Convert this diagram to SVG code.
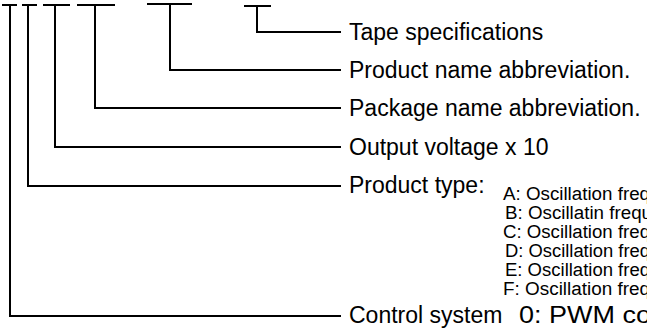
<svg xmlns="http://www.w3.org/2000/svg" width="647" height="328" viewBox="0 0 647 328">
<style>
.c{fill:none;stroke:#000;stroke-width:2;stroke-linecap:butt;stroke-linejoin:miter}
.t{font-family:"Liberation Sans",Arial,sans-serif;font-size:23px;fill:#000}
.s{font-family:"Liberation Sans",Arial,sans-serif;font-size:18px;fill:#000}
</style>
<rect width="647" height="328" fill="#fff"/>
<g id="connectors">
<path class="c" d="M2,5H17M10,5V316H341"/>
<path class="c" d="M22,5H37M28,5V186H341"/>
<path class="c" d="M43,5H70M55,5V147H341"/>
<path class="c" d="M77,5H115M95,5V108H341"/>
<path class="c" d="M147,4H192M170,4V70H341"/>
<path class="c" d="M244,6H271M257,6V32H341"/>
</g>
<g id="tape"><text class="t" x="349" y="40">Tape specifications</text></g>
<g id="product-name"><text class="t" x="349" y="78">Product name abbreviation.</text></g>
<g id="package-name"><text class="t" x="349" y="116">Package name abbreviation.</text></g>
<g id="output-voltage"><text class="t" x="349" y="155">Output voltage x 10</text></g>
<g id="product-type">
<text class="t" x="349" y="193">Product type:</text>
<text class="s" x="503" y="200" textLength="147" lengthAdjust="spacingAndGlyphs">A: Oscillation freq</text>
<text class="s" x="505" y="219" textLength="147" lengthAdjust="spacingAndGlyphs">B: Oscillatin frequ</text>
<text class="s" x="503" y="238" textLength="147" lengthAdjust="spacingAndGlyphs">C: Oscillation freq</text>
<text class="s" x="505" y="257" textLength="145" lengthAdjust="spacingAndGlyphs">D: Oscillation freq</text>
<text class="s" x="505" y="276" textLength="145" lengthAdjust="spacingAndGlyphs">E: Oscillation freq</text>
<text class="s" x="503" y="295" textLength="147" lengthAdjust="spacingAndGlyphs">F: Oscillation freq</text>
</g>
<g id="control-system">
<text class="t" x="349" y="323">Control system</text>
<text class="t" x="519" y="323" textLength="132" lengthAdjust="spacingAndGlyphs">0: PWM co</text>
</g>
</svg>
